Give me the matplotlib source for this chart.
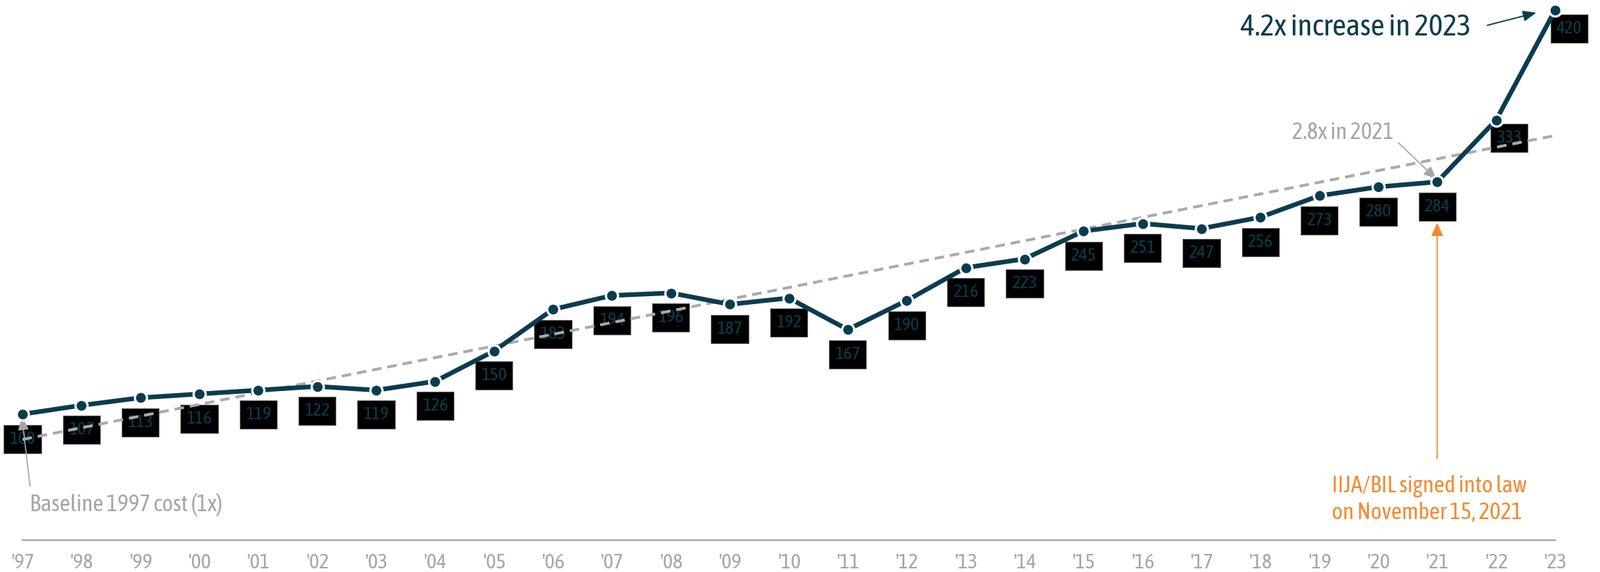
import numpy as np
import matplotlib
matplotlib.use("Agg")
import matplotlib.pyplot as plt

plt.rcParams["font.family"] = ["Asap Condensed", "Barlow Semi Condensed",
                               "DejaVu Sans"]

years = np.arange(1997, 2024)
cost_index = [100, 107, 113, 116, 119, 122, 119, 126, 150, 183, 194, 196, 187,
              192, 167, 190, 216, 223, 245, 251, 247, 256, 273, 280, 284, 333, 420]
tick_labels = ["'" + str(y)[-2:] for y in years]

TEAL = "#0b3c4d"
GRAY = "#a6a6a6"
ORANGE = "#f28b30"

# per-point label offsets (points), default is straight below
label_offsets = {2022: (13, -18), 2023: (14, -18)}

fig = plt.figure(figsize=(22.08, 7.90), dpi=100, facecolor="white")
ax = fig.add_axes([0.01404, 0.05519, 0.9579, 0.9381])
ax.set_xlim(1997, 2023)
ax.set_ylim(0, 425)

# linear trend over all years
slope, icpt = np.polyfit(years, cost_index, 1)
trend = slope * years + icpt
ax.plot(years, trend, color="#aaaaaa", lw=2.8, dashes=(3.4, 2.1), zorder=3,
        clip_on=False)

ax.plot(years, cost_index, color=TEAL, lw=4.6, marker="o", ms=12,
        markerfacecolor=TEAL, markeredgecolor="white", mew=2.2, zorder=4,
        clip_on=False)

for yr, v in zip(years, cost_index):
    dx, dy = label_offsets.get(yr, (0, -24.5))
    ax.annotate(str(v), (yr, v), xytext=(dx, dy), textcoords="offset points",
                ha="center", va="center", fontsize=18, color=TEAL, zorder=2,
                bbox=dict(boxstyle="square,pad=0.32", fc="black",
                          ec="#555555", lw=0.8))

# annotations
ax.text(2021.57, 406, "4.2x increase in 2023", ha="right", va="center",
        fontsize=30, color=TEAL)
ax.annotate("", xy=(2022.68, 418), xytext=(2021.85, 408),
            arrowprops=dict(arrowstyle="-|>,head_length=1.1,head_width=0.45",
                            color=TEAL, lw=1.3, shrinkA=0, shrinkB=0),
            annotation_clip=False)

ax.text(2020.26, 323, "2.8x in 2021", ha="right", va="center",
        fontsize=23, color=GRAY)
ax.annotate("", xy=(2020.99, 286), xytext=(2020.34, 315),
            arrowprops=dict(arrowstyle="-|>,head_length=1.1,head_width=0.45",
                            color=GRAY, lw=1.2, shrinkA=0, shrinkB=0))

ax.text(1997.12, 28.3, "Baseline 1997 cost (1x)", ha="left", va="center",
        fontsize=23, color=GRAY)
ax.annotate("", xy=(1996.99, 97.9), xytext=(1997.13, 42.8),
            arrowprops=dict(arrowstyle="-|>,head_length=1.1,head_width=0.45",
                            color=GRAY, lw=1.2, shrinkA=0, shrinkB=0),
            annotation_clip=False)

ax.text(2019.21, 32.6, "IIJA/BIL signed into law\non November 15, 2021",
        ha="left", va="center", fontsize=23, color=ORANGE, linespacing=1.25)
ax.annotate("", xy=(2021, 251.6), xytext=(2021, 64.9),
            arrowprops=dict(arrowstyle="-|>,head_length=1.1,head_width=0.5",
                            color=ORANGE, lw=1.3, shrinkA=0, shrinkB=0))

for side in ["top", "right", "left"]:
    ax.spines[side].set_visible(False)
ax.spines["bottom"].set_color(GRAY)
ax.spines["bottom"].set_linewidth(1.6)
ax.set_yticks([])
ax.set_xticks(years)
ax.set_xticklabels(tick_labels, fontsize=21, color=GRAY)
ax.tick_params(axis="x", length=0, pad=13)

fig.savefig("out.png", dpi=100, facecolor="white")
